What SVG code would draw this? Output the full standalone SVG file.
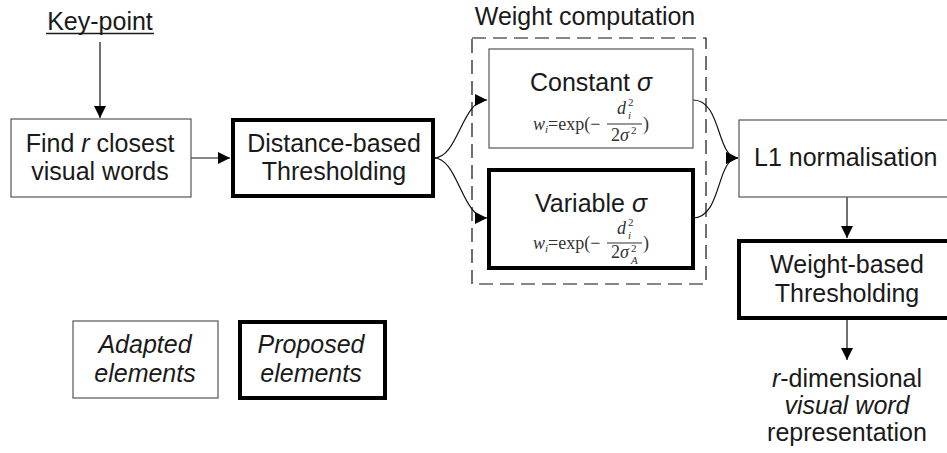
<svg xmlns="http://www.w3.org/2000/svg" width="947" height="453" viewBox="0 0 947 453">
<style>
  .t { font-family: "Liberation Sans", Arial, sans-serif; font-size: 25px; fill: #1a1a1a; text-anchor: middle; }
  .it { font-style: italic; }
  .box { fill: #fff; stroke: #555; stroke-width: 1.2; }
  .bold { fill: #fff; stroke: #000; stroke-width: 4; }
  .ln { fill: none; stroke: #111; stroke-width: 1.2; }
  .f { font-family: "Liberation Serif", "Times New Roman", serif; font-size: 18px; fill: #333; }
  .fs { font-family: "Liberation Serif", "Times New Roman", serif; font-size: 11px; fill: #333; }
  .fl { stroke: #333; stroke-width: 1.2; }
</style>
<defs>
  <marker id="ah" markerWidth="12" markerHeight="14" refX="12" refY="7" orient="auto" markerUnits="userSpaceOnUse">
    <path d="M0,1 L12,7 L0,13 Z" fill="#000"/>
  </marker>
</defs>
<rect width="947" height="453" fill="#fff"/>

<g id="connectors">
  <line class="ln" x1="100" y1="42" x2="100" y2="118" marker-end="url(#ah)"/>
  <line class="ln" x1="191" y1="158" x2="230" y2="158" marker-end="url(#ah)"/>
  <path class="ln" d="M434,158 C458,158 462,100 487,100" marker-end="url(#ah)"/>
  <path class="ln" d="M434,158 C458,158 462,218 487,218" marker-end="url(#ah)"/>
  <path class="ln" d="M693,100 C722,100 716,158 738,158" marker-end="url(#ah)"/>
  <path class="ln" d="M693,218 C722,218 716,158 738,158" marker-end="url(#ah)"/>
  <line class="ln" x1="847" y1="197" x2="847" y2="238" marker-end="url(#ah)"/>
  <line class="ln" x1="847" y1="318" x2="847" y2="360" marker-end="url(#ah)"/>
</g>

<g id="keypoint">
  <text class="t" x="100" y="30">Key-point</text>
  <line x1="46" y1="33.5" x2="154" y2="33.5" stroke="#1a1a1a" stroke-width="1.3"/>
</g>

<g id="find">
  <rect class="box" x="11" y="119" width="180" height="78"/>
  <text class="t" x="100" y="152">Find <tspan class="it">r</tspan> closest</text>
  <text class="t" x="100" y="180">visual words</text>
</g>

<g id="distance">
  <rect class="bold" x="233" y="120" width="200" height="76"/>
  <text class="t" x="334" y="152">Distance-based</text>
  <text class="t" x="334" y="180">Thresholding</text>
</g>

<g id="weight-computation">
  <rect x="472" y="38" width="234" height="246" fill="none" stroke="#111" stroke-width="1.2" stroke-dasharray="14,7"/>
  <text class="t" x="585" y="25">Weight computation</text>
</g>

<g id="constant">
  <rect class="box" x="489" y="49" width="204" height="99"/>
  <text class="t" x="591" y="91">Constant <tspan class="it">σ</tspan></text>
  <text class="f" x="533" y="130"><tspan class="it">w</tspan><tspan class="fs it" dy="3">i</tspan><tspan dy="-3">=exp(−</tspan></text>
  <text class="f it" x="617" y="114">d</text><text class="fs" x="628" y="106">2</text><text class="fs it" x="628" y="119">i</text>
  <line class="fl" x1="607" y1="124" x2="642" y2="124"/>
  <text class="f" x="611" y="141">2<tspan class="it">σ</tspan></text><text class="fs" x="631" y="134">2</text>
  <text class="f" x="643" y="130">)</text>
</g>

<g id="variable">
  <rect class="bold" x="489" y="170" width="204" height="98"/>
  <text class="t" x="591" y="212">Variable <tspan class="it">σ</tspan></text>
  <text class="f" x="533" y="249"><tspan class="it">w</tspan><tspan class="fs it" dy="3">i</tspan><tspan dy="-3">=exp(−</tspan></text>
  <text class="f it" x="617" y="234">d</text><text class="fs" x="628" y="226">2</text><text class="fs it" x="628" y="239">i</text>
  <line class="fl" x1="607" y1="243" x2="642" y2="243"/>
  <text class="f" x="611" y="258">2<tspan class="it">σ</tspan></text><text class="fs" x="631" y="252">2</text><text class="fs it" x="631" y="264">A</text>
  <text class="f" x="643" y="249">)</text>
</g>

<g id="l1">
  <rect class="box" x="739" y="120" width="210" height="77"/>
  <text class="t" x="754" y="166" style="text-anchor:start">L1 normalisation</text>
</g>

<g id="weight-based">
  <rect class="bold" x="739" y="241" width="212" height="77"/>
  <text class="t" x="847" y="273">Weight-based</text>
  <text class="t" x="847" y="302">Thresholding</text>
</g>

<g id="output">
  <text class="t" x="847" y="387"><tspan class="it">r</tspan>-dimensional</text>
  <text class="t it" x="847" y="414">visual word</text>
  <text class="t" x="847" y="441">representation</text>
</g>

<g id="legend-adapted">
  <rect class="box" x="73" y="321" width="145" height="77"/>
  <text class="t it" x="145" y="353">Adapted</text>
  <text class="t it" x="145" y="382">elements</text>
</g>

<g id="legend-proposed">
  <rect class="bold" x="240" y="322" width="145" height="76"/>
  <text class="t it" x="311" y="353">Proposed</text>
  <text class="t it" x="311" y="382">elements</text>
</g>
</svg>
